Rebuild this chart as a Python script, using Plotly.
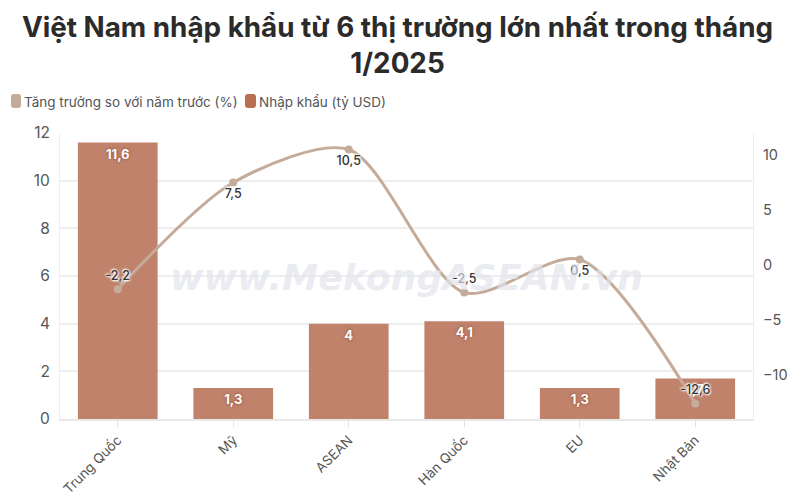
import plotly.graph_objects as go

categories = ["Trung Quốc", "Mỹ", "ASEAN", "Hàn Quốc", "EU", "Nhật Bản"]
import_values = [11.6, 1.3, 4, 4.1, 1.3, 1.7]
growth_values = [-2.2, 7.5, 10.5, -2.5, 0.5, -12.6]
growth_label_pos = ["top center", "bottom center", "bottom center", "top center", "bottom center", "top center"]
left_ticks = [0, 2, 4, 6, 8, 10, 12]
right_ticks = [-10, -5, 0, 5, 10]

BAR_COLOR = "#c0826b"
BAR_LEGEND = "#b96f52"
LINE_COLOR = "#c5ab99"
GRID = "#eeeeee"
W, H = 795, 497
L, R, T, B = 60, 42, 133, 78
PW, PH = W - L - R, H - T - B


def pax(x):
    # pixel to plot-area fraction
    return (x - L) / PW


def pay(y):
    return 1 - (y - T) / PH


def vn(v):
    return str(v).replace(".", ",")


def rounded_rect(x0, y0, w, h, r):
    def px(x, y):
        return f"{pax(x)} {pay(y)}"
    x1, y1 = x0 + w, y0 + h
    return (f"M {px(x0 + r, y0)} L {px(x1 - r, y0)} Q {px(x1, y0)} {px(x1, y0 + r)} "
            f"L {px(x1, y1 - r)} Q {px(x1, y1)} {px(x1 - r, y1)} "
            f"L {px(x0 + r, y1)} Q {px(x0, y1)} {px(x0, y1 - r)} "
            f"L {px(x0, y0 + r)} Q {px(x0, y0)} {px(x0 + r, y0)} Z")


fig = go.Figure()
fig.add_trace(go.Bar(
    x=categories, y=import_values, name="Nhập khẩu (tỷ USD)", width=0.69,
    marker=dict(color=BAR_COLOR, line=dict(width=0)),
    text=[vn(v) for v in import_values], textposition="inside", insidetextanchor="end",
    textangle=0, constraintext="none",
    textfont=dict(family="Inter, sans-serif", size=13, color="#ffffff", weight=700,
                  shadow="0px 0px 3px #8a4a30"),
    cliponaxis=False,
))
fig.add_trace(go.Scatter(
    x=categories, y=growth_values, name="Tăng trưởng so với năm trước (%)", yaxis="y2",
    mode="lines+markers+text",
    line=dict(color=LINE_COLOR, width=3, shape="spline", smoothing=0.8),
    marker=dict(color=LINE_COLOR, size=8),
    text=[vn(v) for v in growth_values], textposition=growth_label_pos,
    textfont=dict(family="Inter, sans-serif", size=12.5, color="#333333", weight=500,
                  shadow="0px 0px 2px #ffffff, 0px 0px 3px #ffffff, 1px 1px 2px #ffffff, -1px -1px 2px #ffffff"),
    cliponaxis=False,
))

fig.update_layout(
    width=W, height=H, autosize=False, showlegend=False,
    paper_bgcolor="#ffffff", plot_bgcolor="#ffffff",
    margin=dict(l=L, r=R, t=T, b=B),
    title=dict(
        text="Việt Nam nhập khẩu từ 6 thị trường lớn nhất trong tháng<br>1/2025",
        x=0.5, xanchor="center", y=1, yanchor="top", pad=dict(t=37),
        font=dict(family="Inter, sans-serif", size=27.8, color="#2b2b2b", weight=700),
    ),
    font=dict(family="Inter, sans-serif", color="#555555", size=14),
    xaxis=dict(
        type="category", tickangle=-45, ticks="outside", ticklen=6, tickcolor="#e4e4e4",
        showgrid=False, showline=True, linecolor="#e8e8e8", linewidth=2, automargin=False,
        tickfont=dict(family="Inter, sans-serif", size=13.5, color="#555555"),
    ),
    yaxis=dict(
        range=[0, 12], tickvals=left_ticks, gridcolor=GRID, gridwidth=1.5, zeroline=False,
        showline=True, linecolor=GRID, linewidth=1, ticks="", automargin=False, ticklabelstandoff=6,
        tickfont=dict(size=15.5, color="#555555"),
    ),
    yaxis2=dict(
        range=[-14, 12], tickvals=right_ticks, overlaying="y", side="right", showgrid=False,
        zeroline=False, showline=True, linecolor=GRID, linewidth=1, ticks="", automargin=False, ticklabelstandoff=6,
        tickfont=dict(size=14.5, color="#555555"),
    ),
    bargap=0.31,
    annotations=[
        dict(text="<b><i>www.MekongASEAN.vn</i></b>", xref="paper", yref="paper", x=pax(406), y=pay(277),
             yanchor="middle", showarrow=False,
             font=dict(family="DejaVu Sans", size=36.3, color="rgba(226,228,236,0.7)")),
        dict(text="Tăng trưởng so với năm trước (%)", xref="paper", yref="paper",
             x=pax(24), y=pay(102), xanchor="left", yanchor="middle", showarrow=False, xshift=-2,
             font=dict(size=13.5, color="#555555")),
        dict(text="Nhập khẩu (tỷ USD)", xref="paper", yref="paper",
             x=pax(259), y=pay(102), xanchor="left", yanchor="middle", showarrow=False, xshift=-2,
             font=dict(size=13.5, color="#555555")),
    ],
    shapes=[
        dict(type="path", xref="paper", yref="paper", path=rounded_rect(11, 94, 10, 14, 3),
             fillcolor=LINE_COLOR, line=dict(width=0)),
        dict(type="path", xref="paper", yref="paper", path=rounded_rect(245, 94, 11, 14, 3),
             fillcolor=BAR_LEGEND, line=dict(width=0)),
    ],
)

# the default page margin would push the chart 8px off
fig.write_html("out.html", config=dict(displayModeBar=False),
               post_script="document.body.style.margin = '0';")
